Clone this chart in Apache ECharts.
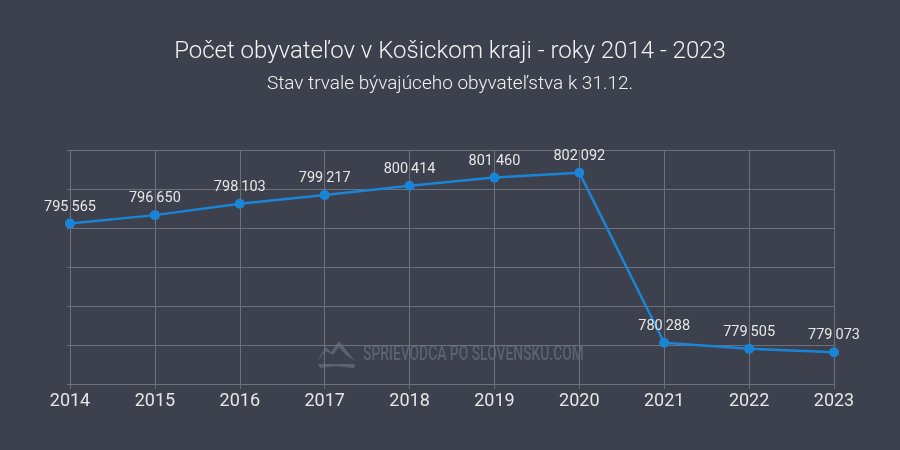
<!DOCTYPE html>
<html><head><meta charset="utf-8">
<script src="https://cdn.jsdelivr.net/npm/echarts@6/dist/echarts.min.js"></script>
<style>html,body{margin:0;padding:0;background:#3c414d}#c{width:900px;height:450px}</style>
</head><body><div id="c"></div>
<script>
const years = ['2014','2015','2016','2017','2018','2019','2020','2021','2022','2023'];
const population = [795565, 796650, 798103, 799217, 800414, 801460, 802092, 780288, 779505, 779073];
const titleText = 'Počet obyvateľov v Košickom kraji - roky 2014 - 2023';
const subtitleText = 'Stav trvale bývajúceho obyvateľstva k 31.12.';
const watermarkText = 'SPRIEVODCA PO SLOVENSKU.COM';

const fmt = v => String(v).replace(/\B(?=(\d{3})+(?!\d))/g, '\u2009');
const chart = echarts.init(document.getElementById('c'));
chart.setOption({
  backgroundColor: '#3c414d',
  animation: false,
  title: {
    text: titleText, subtext: subtitleText, left: 'center', top: 35, itemGap: 11,
    textStyle: {color: '#f2f2f2', fontFamily: 'Roboto', fontWeight: 300, fontSize: 24},
    subtextStyle: {color: '#f2f2f2', fontFamily: 'Roboto', fontWeight: 300, fontSize: 19}
  },
  graphic: [{
    type: 'text', x: 363, y: 344, scaleX: 0.66, silent: true, z: 0,
    style: {text: watermarkText, fill: '#5b6271', font: '500 21px Roboto, sans-serif'}
  }, {
    type: 'polygon', silent: true, z: 0,
    shape: {points: [[317,361],[326,347],[331,352],[339,341],[355,361],[346,355],[339,347],[333,355],[326,351]]},
    style: {fill: '#5b6271'}
  }, {
    type: 'polygon', silent: true, z: 0,
    shape: {points: [[318,364],[355,364],[354,368],[336,366],[320,368]]},
    style: {fill: '#5b6271'}
  }],
  grid: {left: 70, right: 66, top: 150, bottom: 66},
  xAxis: {
    type: 'category', data: years, boundaryGap: false,
    axisLine: {show: true, lineStyle: {color: '#6c717c'}},
    axisTick: {show: true, length: 5, lineStyle: {color: '#6c717c'}},
    axisLabel: {color: '#e6e6e6', fontFamily: 'Roboto', fontSize: 18, margin: 8},
    splitLine: {show: true, lineStyle: {color: '#6c717c', width: 1}}
  },
  yAxis: {
    type: 'value', min: 775000, max: 805000, interval: 5000,
    axisLine: {show: false},
    axisTick: {show: true, length: 3, lineStyle: {color: '#6c717c'}},
    axisLabel: {show: false},
    splitLine: {show: true, lineStyle: {color: '#6c717c', width: 1}}
  },
  series: [{
    type: 'line', data: population,
    symbol: 'circle', symbolSize: 10,
    lineStyle: {color: '#1a84d6', width: 2.5},
    itemStyle: {color: '#1a84d6'},
    label: {
      show: true, position: 'top', distance: 4,
      color: '#e6e6e6', fontFamily: 'Roboto', fontSize: 14.5,
      formatter: p => fmt(p.value)
    }
  }]
});
</script></body></html>
